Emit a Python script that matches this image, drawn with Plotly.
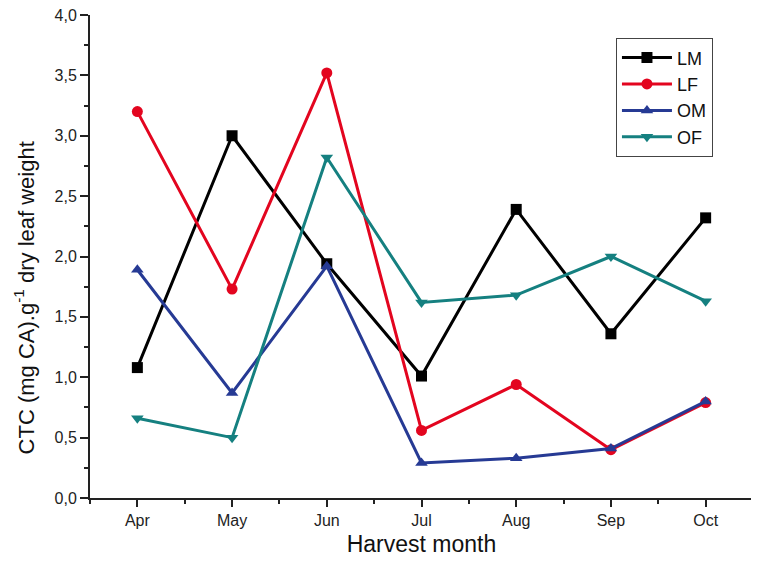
import plotly.graph_objects as go

months = ["Apr", "May", "Jun", "Jul", "Aug", "Sep", "Oct"]
LM = [1.08, 3.00, 1.94, 1.01, 2.39, 1.36, 2.32]
LF = [3.20, 1.73, 3.52, 0.56, 0.94, 0.40, 0.79]
OM = [1.89, 0.87, 1.92, 0.29, 0.33, 0.41, 0.80]
OF = [0.66, 0.50, 2.82, 1.62, 1.68, 2.00, 1.63]
y_ticks = [0, 0.5, 1.0, 1.5, 2.0, 2.5, 3.0, 3.5, 4.0]

series = [
    ("LM", LM, "#000000", "square"),
    ("LF", LF, "#e3051f", "circle"),
    ("OM", OM, "#263a94", "triangle-up"),
    ("OF", OF, "#158080", "triangle-down"),
]

fig = go.Figure()
xs = list(range(len(months)))
for name, vals, color, sym in series:
    fig.add_trace(go.Scatter(
        x=xs, y=vals, name=name, mode="lines+markers",
        line=dict(color=color, width=3),
        marker=dict(symbol=sym, size=11, color=color),
    ))

font = "Liberation Sans, Arial, sans-serif"
fig.update_layout(
    width=759, height=562,
    margin=dict(l=82, r=14, t=7, b=72),
    paper_bgcolor="white", plot_bgcolor="white",
    separators=",.",
    font=dict(family=font, color="#222222"),
    showlegend=True,
    legend=dict(
        x=0.793, y=0.952, xanchor="left", yanchor="top",
        bordercolor="#444444", borderwidth=1.2,
        font=dict(size=18, color="#111111"),
        itemwidth=50, tracegroupgap=0,
        bgcolor="white",
    ),
    xaxis=dict(
        range=[-0.5, 6.5], automargin=False, ticklabeloverflow="allow",
        tickmode="array", tickvals=xs, ticktext=months,
        showline=True, linecolor="#222222", linewidth=2,
        ticks="outside", ticklen=7, tickwidth=2, tickcolor="#222222",
        tickfont=dict(size=16, color="#222222"),
        showgrid=False, zeroline=False,
        minor=dict(tickmode="linear", tick0=-0.5, dtick=1, ticks="outside",
                   ticklen=4, tickwidth=2, tickcolor="#222222", showgrid=False),
        title=dict(text="Harvest month", font=dict(size=23, color="#111111"), standoff=8),
    ),
    yaxis=dict(
        range=[0, 4.0], automargin=False, ticklabeloverflow="allow",
        tickmode="array", tickvals=y_ticks, tickformat=".1f",
        showline=True, linecolor="#222222", linewidth=2,
        ticks="outside", ticklen=8, tickwidth=2, tickcolor="#222222",
        tickfont=dict(size=16, color="#222222"),
        showgrid=False, zeroline=False,
        minor=dict(tickmode="linear", tick0=0.25, dtick=0.5, ticks="outside",
                   ticklen=4, tickwidth=2, tickcolor="#222222", showgrid=False),
    ),
    annotations=[dict(
        text="CTC (mg CA).g<sup>-1</sup> dry leaf weight",
        xref="paper", yref="paper", x=-0.099, y=0.414,
        xanchor="center", yanchor="middle", textangle=-90, showarrow=False,
        font=dict(size=22, color="#111111", family=font),
    )],
)

fig.write_html("out.html")
